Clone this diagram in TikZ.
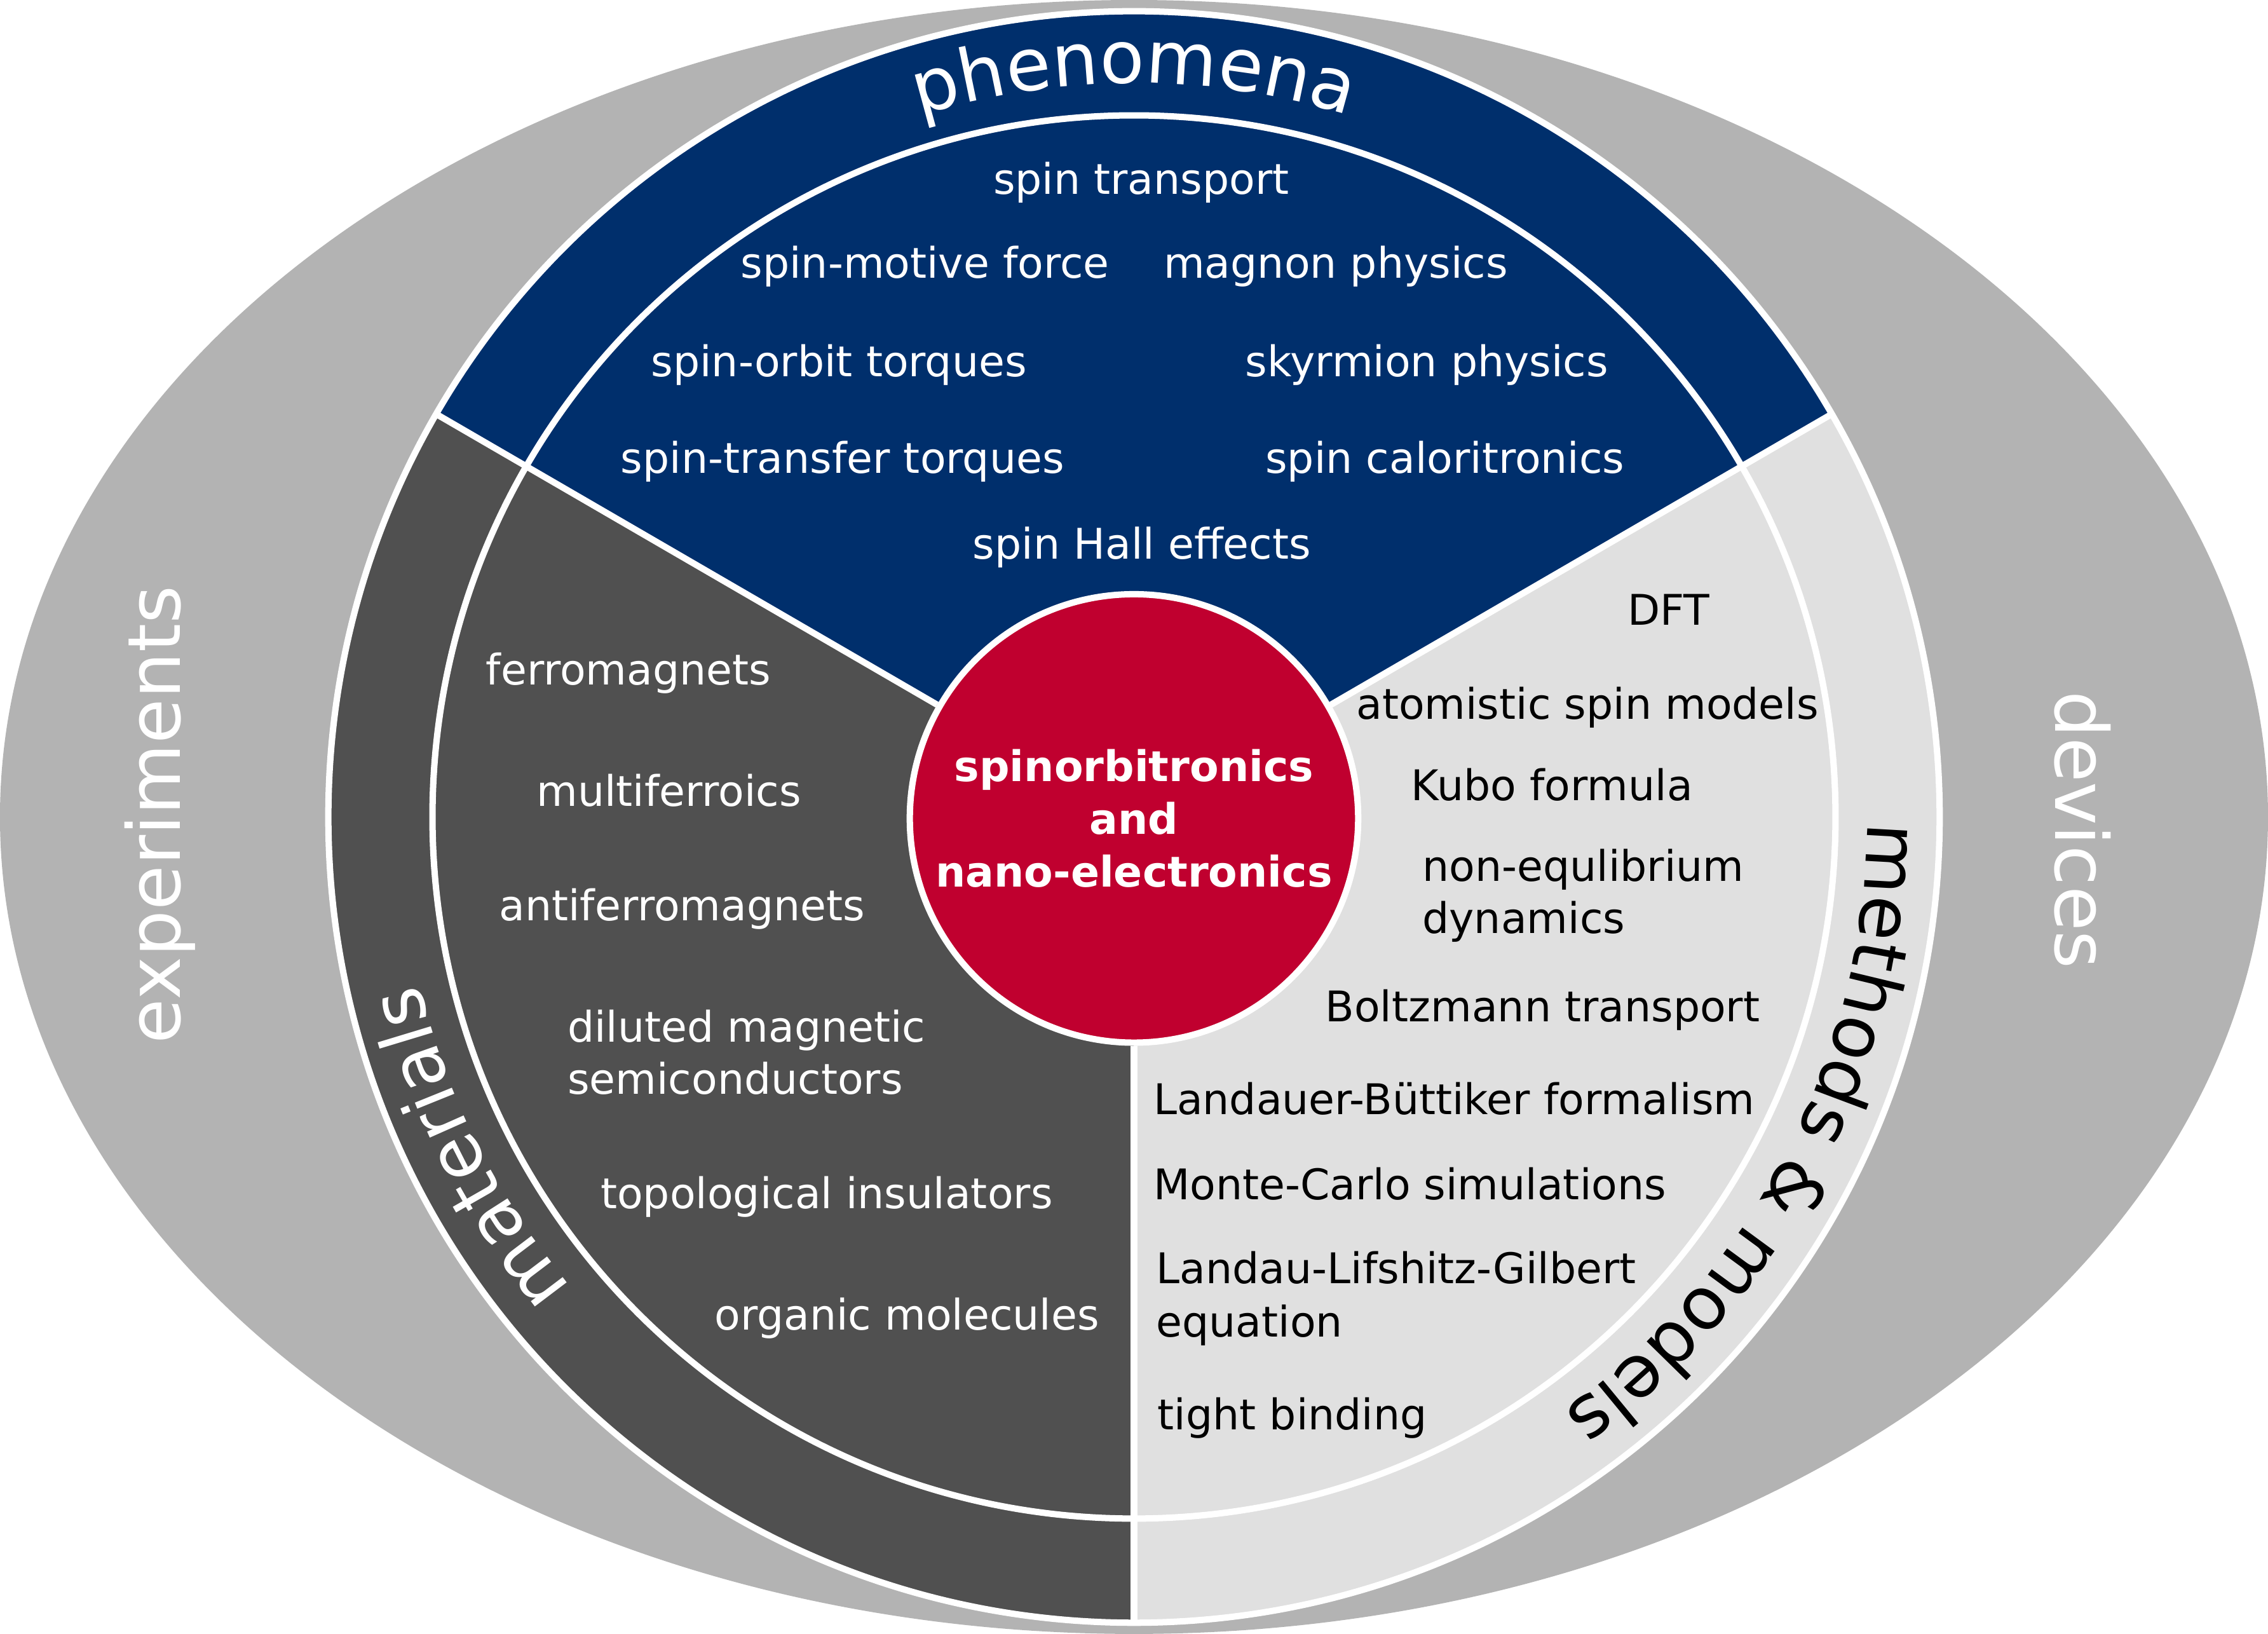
\documentclass[tikz,border=0pt]{standalone}
\usepackage{fontspec}
\setmainfont{DejaVu Sans}
\usetikzlibrary{decorations.text}
\definecolor{navy}{RGB}{0,47,108}
\definecolor{darkgr}{RGB}{80,80,80}
\definecolor{lightgr}{RGB}{224,224,224}
\definecolor{ellgr}{RGB}{179,179,179}
\definecolor{spinred}{RGB}{192,0,47}
\newcommand{\ringfont}{\fontsize{25.25}{30}\selectfont}
\newcommand{\itemfont}{\fontsize{14.6}{18.25}\selectfont}
\begin{document}
\begin{tikzpicture}[x=0.5pt,y=0.5pt,
  sep/.style={draw=white,line width=2.2pt},
  itemw/.style={text=white,font=\itemfont,inner sep=0pt,anchor=base},
  itemb/.style={text=black,font=\itemfont,inner sep=0pt,anchor=base},
  ringlabel/.style={decorate,decoration={text along path,text align=center,text color=#1}},
]
\useasboundingbox (-784,-564.75) rectangle (784,564.75);
\fill[ellgr] (0,0) ellipse [x radius=784, y radius=564.75];
% sectors
\fill[navy] (0,0) -- (150:557) arc[start angle=150,end angle=30,radius=557] -- cycle;
\fill[darkgr] (0,0) -- (150:557) arc[start angle=150,end angle=270,radius=557] -- cycle;
\fill[lightgr] (0,0) -- (270:557) arc[start angle=270,end angle=390,radius=557] -- cycle;
\draw[sep] (0,0) circle[radius=557];
\draw[sep] (0,0) circle[radius=485];
% centre
\node[circle,fill=spinred,draw=white,line width=2.2pt,minimum size=155pt,inner sep=0pt,
      text=white,font=\itemfont\bfseries,align=center] (core) at (0,-1)
      {spinorbitronics\\and\\nano-electronics};
\foreach \a in {30,150,270} \draw[sep] (core.\a) -- (\a:557);
% ring labels
\path[ringlabel=white,decoration={text={|\ringfont|phenomena}}]
  (150:507) arc[start angle=150,end angle=30,radius=507];
\path[ringlabel=white,decoration={text={|\ringfont|materials}}]
  (266.5:507) arc[start angle=266.5,end angle=146.5,radius=507];
\path[ringlabel=black,decoration={text={|\ringfont|methods {\&} models}}]
  (32.7:507) arc[start angle=32.7,end angle=-87.3,radius=507];
% outer labels
\node[rotate=90,anchor=base,text=white,font=\ringfont,inner sep=0pt] (exp) at (-659.5,1.5) {experiments};
\node[rotate=-90,anchor=base,text=white,font=\ringfont,inner sep=0pt] (dev) at (637,-9) {devices};
% phenomena
\node[itemw] (p1) at (5,430.5) {spin transport};
\node[itemw] (p2) at (-144.5,372.5) {spin-motive force};
\node[itemw] (p3) at (139.5,372.5) {magnon physics};
\node[itemw] (p4) at (-204,304.5) {spin-orbit torques};
\node[itemw] (p5) at (202.5,304.5) {skyrmion physics};
\node[itemw] (p6) at (-201.5,237.5) {spin-transfer torques};
\node[itemw] (p7) at (215,237.5) {spin caloritronics};
\node[itemw] (p8) at (5.5,178.5) {spin Hall effects};
% materials
\node[itemw] (m1) at (-349.5,91.5) {ferromagnets};
\node[itemw] (m2) at (-321.5,7.5) {multiferroics};
\node[itemw] (m3) at (-312.5,-71.5) {antiferromagnets};
\node[itemw,anchor=base west] (m4a) at (-392,-155.5) {diluted magnetic};
\node[itemw,anchor=base west] (m4b) at (-392,-191.5) {semiconductors};
\node[itemw] (m5) at (-212.5,-270.5) {topological insulators};
\node[itemw] (m6) at (-157,-354.5) {organic molecules};
% methods
\node[itemb] (t1) at (369.5,132.5) {DFT};
\node[itemb] (t2) at (313.5,67.5) {atomistic spin models};
\node[itemb] (t3) at (289,11.5) {Kubo formula};
\node[itemb,anchor=base west] (t4a) at (199,-44.5) {non-equlibrium};
\node[itemb,anchor=base west] (t4b) at (199,-80.5) {dynamics};
\node[itemb] (t5) at (282.5,-141.5) {Boltzmann transport};
\node[itemb,anchor=base west] (t6) at (13,-205.5) {Landauer-Büttiker formalism};
\node[itemb,anchor=base west] (t7) at (13,-264.5) {Monte-Carlo simulations};
\node[itemb,anchor=base west] (t8a) at (15,-322.5) {Landau-Lifshitz-Gilbert};
\node[itemb,anchor=base west] (t8b) at (15,-359.5) {equation};
\node[itemb,anchor=base west] (t9) at (16,-423.5) {tight binding};
\end{tikzpicture}
\end{document}
